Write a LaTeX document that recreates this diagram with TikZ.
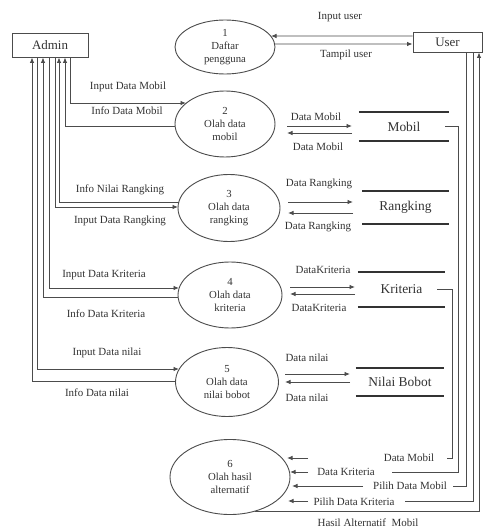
\documentclass[tikz,border=0pt]{standalone}
\usepackage{fontspec}
\setmainfont{Liberation Serif}
\usetikzlibrary{shapes.geometric,arrows.meta}
\begin{document}
\begin{tikzpicture}[x=1bp,y=-1bp,
  lbl/.style={font=\fontsize{11}{12}\selectfont, text=black!80, inner sep=0pt},
  proc/.style={ellipse, draw=black!70, line width=0.9bp, inner sep=0pt, align=center,
    font=\fontsize{10.8}{13}\selectfont, text=black!80},
  ent/.style={draw=black!70, line width=0.9bp, inner sep=0pt, font=\fontsize{13}{15}\selectfont, text=black!80},
  store/.style={inner sep=0pt, font=\fontsize{13.5}{15}\selectfont, text=black!80},
  sline/.style={line width=1.6bp, draw=black!80},
  flow/.style={line width=0.9bp, draw=black!70, -{Latex[length=5.5bp,width=4.5bp]}},
  wire/.style={line width=0.9bp, draw=black!70},
]
\useasboundingbox[fill=white] (0,0) rectangle (485,531);

% external entities
\node[ent, minimum width=76bp, minimum height=24bp] (admin) at (50,45) {Admin};
\node[ent, minimum width=69bp, minimum height=20bp] (user) at (447.5,42) {User};

% processes
\node[proc, minimum width=100bp, minimum height=54bp] (e1) at (225,47) {1\\Daftar\\pengguna};
\node[proc, minimum width=100bp, minimum height=66bp] (e2) at (225,124) {2\\Olah data\\mobil};
\node[proc, minimum width=102bp, minimum height=67bp] (e3) at (229,208) {3\\Olah data\\rangking};
\node[proc, minimum width=104bp, minimum height=66bp] (e4) at (230,295) {4\\Olah data\\kriteria};
\node[proc, minimum width=103bp, minimum height=69bp] (e5) at (227,382) {5\\Olah data\\nilai bobot};
\node[proc, minimum width=120bp, minimum height=75bp] (e6) at (230,477) {6\\Olah hasil\\alternatif};

% data stores
\node[store, minimum width=90bp, minimum height=29bp] (mobil) at (404,126.5) {Mobil};
\node[store, minimum width=86bp, minimum height=33bp] (rangking) at (405.5,207.5) {Rangking};
\node[store, minimum width=87bp, minimum height=35bp] (kriteria) at (401.5,289.5) {Kriteria};
\node[store, minimum width=88bp, minimum height=28bp] (nilai) at (400,382) {Nilai Bobot};
\foreach \s in {mobil,rangking,kriteria,nilai}{
  \draw[sline] (\s.north west) -- (\s.north east) (\s.south west) -- (\s.south east);
}

% user <-> process 1
\draw[flow] ([yshift=6bp]user.west) -- (271,36);
\draw[flow] (275,44) -- ([yshift=-2bp]user.west);
\node[lbl] (tu1) at (340,17) {Input user};
\node[lbl] (tu2) at (346,55) {Tampil user};

% admin <-> processes
\draw[flow] ([xshift=20bp]admin.south) |- (186,103);
\draw[flow] (175,126) -| ([xshift=15bp]admin.south);
\draw[flow] (179,202) -| ([xshift=9bp]admin.south);
\draw[flow] ([xshift=5bp]admin.south) |- (178,207);
\draw[flow] ([xshift=-1bp]admin.south) |- (179,288);
\draw[flow] (178,297) -| ([xshift=-7bp]admin.south);
\draw[flow] ([xshift=-13bp]admin.south) |- (179,369);
\draw[flow] (175.5,381) -| ([xshift=-18bp]admin.south);

\node[lbl] (la1) at (128,87) {Input Data Mobil};
\node[lbl] (la2) at (127,111) {Info Data Mobil};
\node[lbl] (la3) at (120,190) {Info Nilai Rangking};
\node[lbl] (la4) at (120,221) {Input Data Rangking};
\node[lbl] (la5) at (104,275) {Input Data Kriteria};
\node[lbl] (la6) at (106,314) {Info Data Kriteria};
\node[lbl] (la7) at (107,353) {Input Data nilai};
\node[lbl] (la8) at (97,393) {Info Data nilai};

% process <-> stores
\draw[flow] (287,126) -- (352,126);
\draw[flow] (352,133) -- (287,133);
\draw[flow] (288,202) -- (353,202);
\draw[flow] (353,213) -- (288,213);
\draw[flow] (290,287) -- (355,287);
\draw[flow] (355,294) -- (290,294);
\draw[flow] (285,374) -- (350,374);
\draw[flow] (350,382) -- (285,382);

\node[lbl] (ls1) at (316,117) {Data Mobil};
\node[lbl] (ls2) at (318,147) {Data Mobil};
\node[lbl] (ls3) at (319,184) {Data Rangking};
\node[lbl] (ls4) at (318,227) {Data Rangking};
\node[lbl] (ls5) at (323,270) {DataKriteria};
\node[lbl] (ls6) at (319,308) {DataKriteria};
\node[lbl] (ls7) at (307,358) {Data nilai};
\node[lbl] (ls8) at (307,398) {Data nilai};

% inputs to process 6
\node[lbl] (lb1) at (409,458) {Data Mobil};
\node[lbl] (lb2) at (346,472) {Data Kriteria};
\node[lbl] (lb3) at (410,486) {Pilih Data Mobil};
\node[lbl] (lb4) at (354,502) {Pilih Data Kriteria};
\node[lbl] (lb5) at (368,523) {Hasil Alternatif\ \ Mobil};

\draw[wire] ([xshift=-8bp]kriteria.east) -| (452,458) -- (447,458);
\draw[flow] (308,458) -- (287,458);
\draw[wire] ([xshift=-4bp]mobil.east) -| (458,472) -- (392,472);
\draw[flow] (308,472) -- (290,472);
\draw[wire] ([xshift=18.5bp]user.south) |- (453,486);
\draw[flow] (363,486) -- (292,486);
\draw[wire] ([xshift=25.5bp]user.south) |- (405,501);
\draw[flow] (308,501) -- (288,501);
\draw[flow] (255,511) -| ([xshift=31.5bp]user.south);
\end{tikzpicture}
\end{document}
